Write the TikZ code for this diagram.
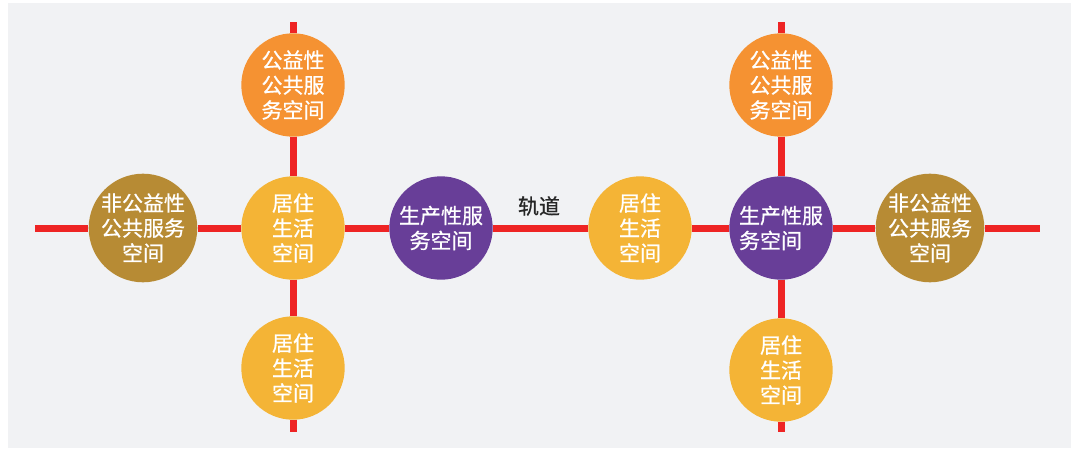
\documentclass[tikz,border=0pt]{standalone}
\usepackage{fontspec}
\usepackage{xcolor}
\usetikzlibrary{positioning}
\newfontfamily\cjk[FakeBold=0.8]{Noto Sans CJK SC}
\definecolor{bggray}{RGB}{241,242,244}
\definecolor{railred}{RGB}{238,36,36}
\definecolor{puborange}{RGB}{245,146,50}
\definecolor{nongold}{RGB}{183,139,52}
\definecolor{resyellow}{RGB}{244,180,54}
\definecolor{prodpurple}{RGB}{104,62,152}
\begin{document}
\begin{tikzpicture}[x=1pt,y=-1pt,semithick,
        font=\cjk\fontsize{21}{25}\selectfont]
        \tikzstyle{every spot}=[circle,draw=none,text=white,minimum size=103.4pt,inner sep=0pt,align=center]
        \tikzstyle{rail}=[draw=railred,line width=7pt]
        \useasboundingbox (0,0) rectangle (1080,455);
        \fill[bggray] (8,3) rectangle (1071,448);
        % left cross
        \node[every spot,fill=puborange](pubL) at (293,85){公益性\\公共服\\务空间};
        \node[every spot,fill=nongold](nonL) at (143,228){非公益性\\公共服务\\空间};
        \node[every spot,fill=resyellow](resL) at (293,228){居住\\生活\\空间};
        \node[every spot,fill=resyellow](resLb) at (293,368){居住\\生活\\空间};
        \node[every spot,fill=prodpurple](prodL) at (441,228){生产性服\\务空间};
        % right cross
        \node[every spot,fill=resyellow](resM) at (640,228){居住\\生活\\空间};
        \node[every spot,fill=puborange](pubR) at (781,85){公益性\\公共服\\务空间};
        \node[every spot,fill=prodpurple,align=left](prodR) at (781,228){生产性服\\务空间};
        \node[every spot,fill=resyellow](resRb) at (781,370){居住\\生活\\空间};
        \node[every spot,fill=nongold](nonR) at (930,228){非公益性\\公共服务\\空间};
        \node[text=black!85](rail) at (539,206){轨道};
        \coordinate (endW) at (35,228);
        \coordinate (endE) at (1040,228);
        \coordinate (endNL) at (293,22);
        \coordinate (endSL) at (293,432);
        \coordinate (endNR) at (781,22);
        \coordinate (endSR) at (781,432);
        \draw[rail] (endW) -- (nonL) -- (resL) -- (prodL) -- (resM) -- (prodR) -- (nonR) -- (endE);
        \draw[rail] (endNL) -- (pubL) -- (resL) -- (resLb) -- (endSL);
        \draw[rail] (endNR) -- (pubR) -- (prodR) -- (resRb) -- (endSR);
\end{tikzpicture}
\end{document}
